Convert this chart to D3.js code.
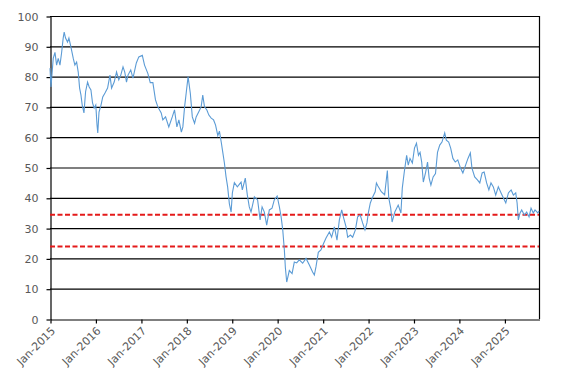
<!DOCTYPE html>
<html><head><meta charset="utf-8">
<script src="https://cdn.jsdelivr.net/npm/d3@7"></script>
<style>body{margin:0;background:#fff}svg{display:block}</style>
</head><body>
<svg id="c" width="567" height="383"></svg>
<script>
const dates = ["2015-01-01","2015-01-09","2015-01-27","2015-02-10","2015-02-23","2015-03-08","2015-03-22","2015-04-04","2015-04-17","2015-04-25","2015-05-06","2015-05-22","2015-06-02","2015-06-18","2015-07-07","2015-07-20","2015-08-03","2015-08-16","2015-08-27","2015-09-07","2015-09-17","2015-10-01","2015-10-14","2015-10-30","2015-11-12","2015-11-26","2015-12-09","2015-12-22",
"2016-01-04","2016-01-14","2016-01-20","2016-01-30","2016-02-15","2016-02-29","2016-03-18","2016-04-08","2016-04-27","2016-05-10","2016-05-31","2016-06-19","2016-07-07","2016-07-23","2016-08-10","2016-08-24","2016-09-07","2016-09-19","2016-10-11","2016-10-29","2016-11-25","2016-12-15",
"2017-01-12","2017-01-30","2017-02-26","2017-03-17","2017-04-07","2017-04-28","2017-05-17","2017-06-13","2017-06-26","2017-07-18","2017-08-13","2017-09-10","2017-09-28","2017-10-17","2017-11-02","2017-11-22","2017-12-04","2017-12-18",
"2018-01-01","2018-01-15","2018-02-02","2018-02-18","2018-03-08","2018-03-21","2018-04-11","2018-04-30","2018-05-13","2018-05-27","2018-06-15","2018-07-01","2018-07-20","2018-08-08","2018-08-24","2018-09-11","2018-09-24","2018-10-10","2018-10-18","2018-11-03","2018-11-16","2018-11-29","2018-12-13","2018-12-27",
"2019-01-06","2019-01-22","2019-02-15","2019-03-17","2019-03-27","2019-04-20","2019-05-06","2019-05-22","2019-06-05","2019-07-02","2019-07-28","2019-08-17","2019-09-02","2019-09-20","2019-10-09","2019-10-30","2019-11-21","2019-12-09",
"2020-01-01","2020-01-19","2020-02-02","2020-02-15","2020-02-28","2020-03-07","2020-03-18","2020-04-08","2020-04-30","2020-05-18","2020-06-06","2020-06-27","2020-07-24","2020-08-20","2020-09-16","2020-10-12","2020-10-26","2020-11-08","2020-11-27","2020-12-18",
"2021-01-09","2021-01-28","2021-02-24","2021-03-14","2021-04-05","2021-04-26","2021-05-15","2021-06-03","2021-06-19","2021-07-08","2021-07-21","2021-08-12","2021-08-30","2021-09-21","2021-10-09","2021-10-30","2021-11-18","2021-12-07","2021-12-23",
"2022-01-03","2022-01-19","2022-02-07","2022-02-27","2022-03-09","2022-03-20","2022-04-17","2022-05-14","2022-06-05","2022-06-16","2022-07-02","2022-07-13","2022-08-04","2022-08-31","2022-09-22","2022-10-03","2022-10-19","2022-11-07","2022-11-20","2022-12-04","2022-12-23",
"2023-01-09","2023-01-25","2023-02-10","2023-02-23","2023-03-08","2023-03-21","2023-04-09","2023-04-24","2023-05-07","2023-05-21","2023-06-08","2023-06-27","2023-07-13","2023-07-31","2023-08-18","2023-09-09","2023-09-22","2023-10-11","2023-10-27","2023-11-14","2023-12-03","2023-12-23",
"2024-01-14","2024-02-02","2024-02-24","2024-03-14","2024-04-02","2024-04-15","2024-05-07","2024-05-29","2024-06-17","2024-07-06","2024-07-22","2024-08-11","2024-08-29","2024-09-15","2024-10-04","2024-10-23","2024-11-13","2024-12-05","2024-12-23",
"2025-01-12","2025-02-02","2025-02-24","2025-03-14","2025-04-02","2025-04-13","2025-04-23","2025-05-07","2025-05-20","2025-06-10","2025-06-29","2025-07-18","2025-08-03","2025-08-21","2025-09-04","2025-09-26","2025-10-06"];
const values = [82.8,76.6,86,88,83.8,86,83.8,87.8,92.7,94.7,92.7,91.4,92.7,89.8,86,83.8,84.8,81.5,76.2,73.9,70.6,68,75,78.2,76.6,75.6,71.3,69.6,
70.6,64,61.4,68.3,70.6,73.3,74.6,76.2,80.5,76.2,78.2,81.5,78.9,80.5,83.2,81.5,78.2,80.5,82.2,79.5,84.5,86.5,
87,83.8,81,78,78,72.3,70,68,65.7,66.7,63.4,66.7,69,63.4,65.7,61.7,63.4,70,
75,80,74.5,66.7,64.6,66.7,68.4,70,73.9,70,69,67.3,66.3,65.7,64,60.5,62,58,55.8,51.5,47,43.6,38,35.3,
41.6,45,43.6,45.2,42.6,46.5,41,37,35.3,40.3,39.3,32.7,37,35.3,31,36,36.6,39.3,
40.6,37,33.7,29.4,22.8,17,12.2,16,15,18.8,18.5,19.5,18.4,20,17.8,15.5,14.5,17.2,22,22.8,
25,26.7,28.7,27,30.4,26,32.7,36,33.3,30.4,27,27.7,27,29.4,33.7,34.3,31.7,29.4,31.7,
35,38.3,40.3,42,44.9,44,42,41,49,40,36.6,32,35.3,37.6,35,43.2,48.5,54,50.8,53,51.5,
56.4,58,54,55,51.8,45.2,48.5,51.8,46.5,44.2,46.9,48,55,57.4,58.4,61.4,59,58.4,56.4,53,51.8,52.5,
49.8,48.2,50.8,53,54.8,49.8,46.9,45.9,44.9,48.2,48.5,44.9,42.6,44.9,43.6,40.9,43.6,41.6,40,
38.3,41.6,42.6,40.9,41.6,38.3,32.7,35,36,34.3,35.3,33.7,36.6,35,36,35,35.6];
const refLines = [34.4, 23.9];
const yTicks = [0,10,20,30,40,50,60,70,80,90,100];
const xStart = "2015-01-01", xEnd = "2025-10-06";

const parse = d3.timeParse("%Y-%m-%d");
const data = dates.map((d,i)=>({date:parse(d), v:values[i]}));
const L=50, R=539, T=16, B=319;
const x = d3.scaleTime().domain([parse(xStart), parse(xEnd)]).range([L,R]);
const y = d3.scaleLinear().domain([0,100]).range([B,T]);
const svg = d3.select("#c");
const font = "'DejaVu Sans', Verdana, sans-serif";

// gridlines
svg.append("g").selectAll("line").data(yTicks.filter(t=>t>0)).join("line")
  .attr("x1",L).attr("x2",R).attr("y1",d=>y(d)+0.5).attr("y2",d=>y(d)+0.5)
  .attr("stroke","#000").attr("stroke-width",1.2);
// right border
svg.append("line").attr("x1",R+0.5).attr("x2",R+0.5).attr("y1",T).attr("y2",B)
  .attr("stroke","#000").attr("stroke-width",1.2);

// y axis
const ya = svg.append("g").attr("transform",`translate(${L+0.5},0.5)`)
  .call(d3.axisLeft(y).tickValues(yTicks).tickSize(4).tickSizeOuter(0).tickPadding(8).tickFormat(d3.format("d")));
ya.select(".domain").attr("stroke","#000").attr("stroke-width",1.2);
ya.selectAll(".tick line").attr("stroke","#000").attr("stroke-width",1.2);
ya.selectAll("text").attr("fill","#595959").style("font-family",font).style("font-size","11px");

// x axis
const xa = svg.append("g").attr("transform",`translate(0.5,${B+0.5})`)
  .call(d3.axisBottom(x).ticks(d3.timeYear.every(1)).tickSize(4).tickSizeOuter(0).tickFormat(d3.timeFormat("Jan-%Y")));
xa.select(".domain").attr("stroke","#000").attr("stroke-width",1.2);
xa.selectAll(".tick line").attr("stroke","#000").attr("stroke-width",1.2);
xa.selectAll("text").attr("fill","#595959").style("font-family",font).style("font-size","11px")
  .attr("text-anchor","end").attr("dy","0").attr("y",0)
  .attr("transform","translate(5,12) rotate(-45)");

// reference lines
svg.append("g").selectAll("line").data(refLines).join("line")
  .attr("x1",L).attr("x2",R).attr("y1",d=>y(d)).attr("y2",d=>y(d))
  .attr("stroke","#e41a1a").attr("stroke-width",2).attr("stroke-dasharray","5,2.5");

// series
svg.append("path").datum(data)
  .attr("d", d3.line().x(d=>x(d.date)).y(d=>y(d.v)))
  .attr("fill","none").attr("stroke","#5b9bd5").attr("stroke-width",1.1);
</script>
</body></html>
